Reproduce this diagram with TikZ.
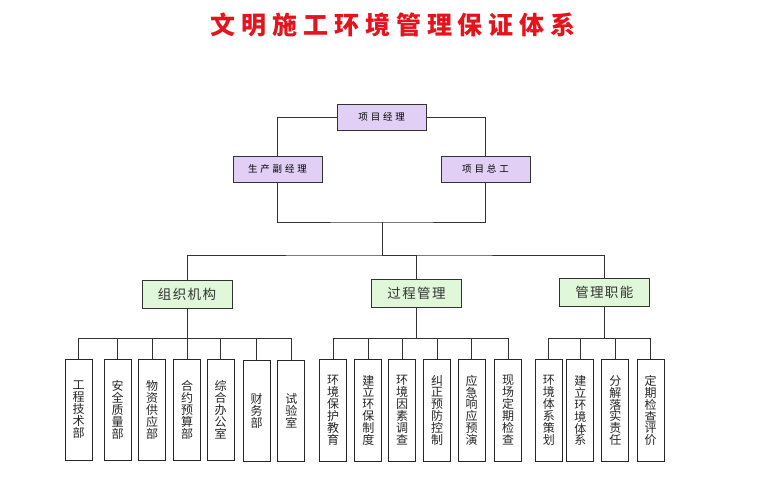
\documentclass[tikz,border=0pt]{standalone}
\usepackage{fontspec}
\newfontfamily\cjk{Noto Sans CJK SC}
\definecolor{boxpurple}{HTML}{E2CFF5}
\definecolor{boxgreen}{HTML}{E0F7DA}
\definecolor{linegray}{HTML}{333333}
\definecolor{titlered}{HTML}{E5131B}
\begin{document}
\begin{tikzpicture}[x=1pt,y=-1pt,
  topbox/.style={draw=linegray,fill=boxpurple,line width=1pt,minimum width=89pt,minimum height=26pt,inner sep=0pt,
    font=\cjk\fontsize{9.5}{10}\selectfont\addfontfeature{LetterSpace=30}},
  midbox/.style={draw=linegray,fill=boxgreen,line width=1pt,minimum width=90pt,minimum height=28pt,inner sep=0pt,
    text=black!80,font=\cjk\fontsize{13.5}{14}\selectfont\addfontfeature{LetterSpace=10}},
  leafbox/.style={draw=black!85,fill=white,line width=1pt,minimum width=27pt,minimum height=101.5pt,inner sep=0pt,
    anchor=north,align=center,text=black!85,font=\cjk\fontsize{12}{11.9}\selectfont},
  link/.style={draw=linegray,line width=1pt}]
\useasboundingbox (0,0) rectangle (764,501);
% title
\node[text=titlered,font=\cjk\bfseries\fontsize{25}{26}\selectfont\addfontfeature{LetterSpace=24}] (title) at (393,25) {文明施工环境管理保证体系};
% top level
\node[topbox] (pm) at (381.7,117) {项目经理};
\node[topbox] (dpm) at (277.5,169) {生产副经理};
\node[topbox] (ce) at (485.5,169) {项目总工};
\path coordinate (j1) at (382.3,222)
      coordinate (j2) at (382.3,255);
% middle level
\node[midbox] (org) at (187,294) {组织机构};
\node[midbox] (proc) at (416.5,293) {过程管理};
\node[midbox] (func) at (604.3,292.5) {管理职能};
% leaves
\node[leafbox] (o1) at (78.7,358.5) {工\\程\\技\\术\\部};
\node[leafbox] (o2) at (117.7,358.5) {安\\全\\质\\量\\部};
\node[leafbox] (o3) at (152.2,358.5) {物\\资\\供\\应\\部};
\node[leafbox] (o4) at (187,358.5) {合\\约\\预\\算\\部};
\node[leafbox] (o5) at (220.5,358.5) {综\\合\\办\\公\\室};
\node[leafbox] (o6) at (256.7,359.5) {财\\务\\部};
\node[leafbox] (o7) at (291.3,359.5) {试\\验\\室};
\node[leafbox] (p1) at (333,359) {环\\境\\保\\护\\教\\育};
\node[leafbox] (p2) at (368.3,359) {建\\立\\环\\保\\制\\度};
\node[leafbox] (p3) at (402,359) {环\\境\\因\\素\\调\\查};
\node[leafbox] (p4) at (437,359) {纠\\正\\预\\防\\控\\制};
\node[leafbox] (p5) at (471.7,359) {应\\急\\响\\应\\预\\演};
\node[leafbox] (p6) at (508,359) {现\\场\\定\\期\\检\\查};
\node[leafbox] (f1) at (548.9,359.3) {环\\境\\体\\系\\策\\划};
\node[leafbox] (f2) at (580.3,359.3) {建\\立\\环\\境\\体\\系};
\node[leafbox] (f3) at (615.3,359.3) {分\\解\\落\\实\\责\\任};
\node[leafbox] (f4) at (650.5,359.3) {定\\期\\检\\查\\评\\价};
% connectors
\draw[link] (pm.west) -| (dpm.north);
\draw[link] (pm.east) -| (ce.north);
\draw[link] (dpm.south) |- (j1) -| (ce.south);
\draw[link] (j1) -- (j2);
\draw[link] (org.north) |- (j2) -| (func.north);
\draw[link] (j2) -| (proc.north);
\draw[link] (org.south) -- ++(0,29.5) coordinate (ob)
  (ob) -| (o1.north) (ob) -| (o2.north) (ob) -| (o3.north) (ob) -- (o4.north)
  (ob) -| (o5.north) (ob) -| (o6.north) (ob) -| (o7.north);
\draw[link] (proc.south) -- ++(0,31) coordinate (pb)
  (pb) -| (p1.north) (pb) -| (p2.north) (pb) -| (p3.north)
  (pb) -| (p4.north) (pb) -| (p5.north) (pb) -| (p6.north);
\draw[link] (func.south) -- ++(0,31.5) coordinate (fb)
  (fb) -| (f1.north) (fb) -| (f2.north) (fb) -| (f3.north) (fb) -| (f4.north);
\end{tikzpicture}
\end{document}
